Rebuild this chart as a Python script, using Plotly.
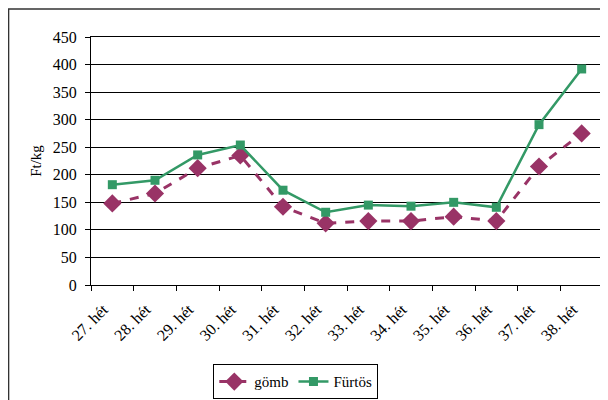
import plotly.graph_objects as go

weeks = ["27. hét", "28. hét", "29. hét", "30. hét", "31. hét", "32. hét",
         "33. hét", "34. hét", "35. hét", "36. hét", "37. hét", "38. hét"]
gomb = [148, 166, 212, 235, 142, 112, 116, 116, 124, 116, 215, 275]
furtos = [182, 190, 236, 254, 172, 132, 145, 143, 150, 141, 291, 392]
y_ticks = [0, 50, 100, 150, 200, 250, 300, 350, 400, 450]

FONT = "Liberation Serif, Times New Roman, serif"

fig = go.Figure()
fig.add_trace(go.Scatter(
    x=weeks, y=gomb, name="gömb", mode="lines+markers",
    line=dict(color="#993366", width=3, dash="dash"),
    marker=dict(symbol="diamond", size=14, color="#993366"),
))
fig.add_trace(go.Scatter(
    x=weeks, y=furtos, name="Fürtös", mode="lines+markers",
    line=dict(color="#339966", width=2.5),
    marker=dict(symbol="square", size=9, color="#339966"),
))

# page body has an 8px margin, so the figure is offset by (8, 8)
fig.update_layout(
    width=608, height=400,
    margin=dict(l=83, r=13, t=29, b=123, autoexpand=False),
    paper_bgcolor="white", plot_bgcolor="white",
    font=dict(family=FONT, size=13, color="black"),
    showlegend=True,
    legend=dict(
        orientation="h", x=0.40, xanchor="center", y=-0.32, yanchor="top",
        bordercolor="black", borderwidth=1, font=dict(family=FONT, size=15),
        tracegroupgap=0,
    ),
    xaxis=dict(
        type="category", tickson="boundaries", ticks="outside", ticklen=5,
        tickcolor="black", tickangle=-45, showgrid=False,
        showline=True, linecolor="black", linewidth=1, mirror=True,
        tickfont=dict(family=FONT, size=16), automargin=False,
        ticklabelshift=-9, ticklabelstandoff=8,
        range=[-0.5, 11.5],
    ),
    yaxis=dict(
        range=[0, 450], tickvals=y_ticks, ticks="outside", ticklen=5,
        tickcolor="black", showgrid=True, gridcolor="black", gridwidth=1,
        showline=True, linecolor="black", linewidth=1, mirror=True,
        tickfont=dict(family=FONT, size=16), automargin=False,
        ticklabelstandoff=5,
        title=dict(text="Ft/kg", font=dict(family=FONT, size=15), standoff=7),
        zeroline=False,
    ),
    shapes=[dict(
        type="rect", xref="paper", yref="paper",
        x0=-0.161, x1=1.2, y0=-0.6, y1=1.113,
        line=dict(color="#333333", width=1.5), fillcolor="rgba(0,0,0,0)",
    )],
)

fig.write_html("out.html")
